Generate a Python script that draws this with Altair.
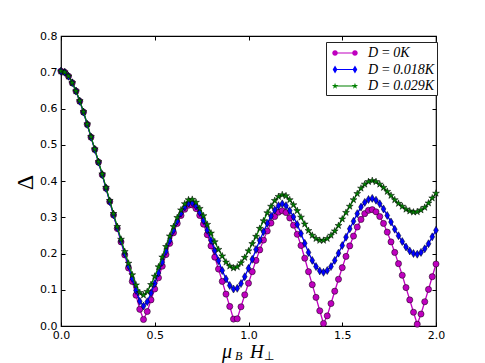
import altair as alt
import pandas as pd

# ---------------- data ----------------
x_vals = [0.00, 0.02, 0.04, 0.06, 0.08, 0.10, 0.12, 0.14, 0.16, 0.18,
          0.20, 0.22, 0.24, 0.26, 0.28, 0.30, 0.32, 0.34, 0.36, 0.38,
          0.40, 0.42, 0.44, 0.46, 0.48, 0.50, 0.52, 0.54, 0.56, 0.58,
          0.60, 0.62, 0.64, 0.66, 0.68, 0.70, 0.72, 0.74, 0.76, 0.78,
          0.80, 0.82, 0.84, 0.86, 0.88, 0.90, 0.92, 0.94, 0.96, 0.98,
          1.00, 1.02, 1.04, 1.06, 1.08, 1.10, 1.12, 1.14, 1.16, 1.18,
          1.20, 1.22, 1.24, 1.26, 1.28, 1.30, 1.32, 1.34, 1.36, 1.38,
          1.40, 1.42, 1.44, 1.46, 1.48, 1.50, 1.52, 1.54, 1.56, 1.58,
          1.60, 1.62, 1.64, 1.66, 1.68, 1.70, 1.72, 1.74, 1.76, 1.78,
          1.80, 1.82, 1.84, 1.86, 1.88, 1.90, 1.92, 1.94, 1.96, 1.98,
          2.00]

delta_D0 = [0.703, 0.700, 0.689, 0.671, 0.648, 0.620, 0.590, 0.556, 0.521, 0.487,
            0.452, 0.417, 0.380, 0.343, 0.306, 0.269, 0.232, 0.196, 0.160, 0.123,
            0.085, 0.046, 0.018, 0.040, 0.072, 0.102, 0.133, 0.165, 0.197, 0.228,
            0.257, 0.283, 0.305, 0.322, 0.333, 0.334, 0.324, 0.305, 0.281, 0.252,
            0.221, 0.190, 0.157, 0.123, 0.088, 0.054, 0.019, 0.020, 0.053, 0.086,
            0.118, 0.150, 0.181, 0.210, 0.237, 0.262, 0.284, 0.302, 0.314, 0.318,
            0.313, 0.298, 0.278, 0.253, 0.222, 0.187, 0.150, 0.114, 0.079, 0.042,
            0.007, 0.028, 0.062, 0.096, 0.129, 0.161, 0.192, 0.221, 0.248, 0.273,
            0.294, 0.310, 0.319, 0.321, 0.315, 0.302, 0.283, 0.259, 0.232, 0.203,
            0.172, 0.140, 0.106, 0.072, 0.038, 0.005, 0.033, 0.067, 0.101, 0.136,
            0.171]

delta_D018 = [0.703, 0.700, 0.689, 0.671, 0.648, 0.620, 0.590, 0.556, 0.521, 0.487,
              0.452, 0.417, 0.380, 0.343, 0.307, 0.271, 0.235, 0.200, 0.166, 0.131,
              0.098, 0.068, 0.055, 0.067, 0.091, 0.117, 0.146, 0.176, 0.206, 0.236,
              0.264, 0.290, 0.311, 0.328, 0.339, 0.340, 0.331, 0.313, 0.291, 0.264,
              0.236, 0.208, 0.180, 0.153, 0.130, 0.112, 0.102, 0.104, 0.117, 0.136,
              0.159, 0.184, 0.211, 0.236, 0.260, 0.283, 0.303, 0.320, 0.332, 0.337,
              0.332, 0.318, 0.301, 0.280, 0.255, 0.228, 0.203, 0.181, 0.164, 0.152,
              0.148, 0.153, 0.164, 0.181, 0.201, 0.222, 0.245, 0.268, 0.289, 0.310,
              0.328, 0.341, 0.349, 0.352, 0.347, 0.337, 0.323, 0.305, 0.287, 0.267,
              0.249, 0.233, 0.218, 0.207, 0.200, 0.198, 0.203, 0.213, 0.227, 0.246,
              0.264]

delta_D029 = [0.703, 0.700, 0.689, 0.671, 0.648, 0.621, 0.591, 0.557, 0.522, 0.488,
              0.453, 0.419, 0.382, 0.346, 0.310, 0.274, 0.239, 0.205, 0.173, 0.141,
              0.113, 0.092, 0.085, 0.095, 0.114, 0.137, 0.163, 0.190, 0.219, 0.248,
              0.274, 0.299, 0.320, 0.337, 0.348, 0.349, 0.341, 0.324, 0.304, 0.280,
              0.256, 0.232, 0.211, 0.193, 0.176, 0.165, 0.160, 0.163, 0.174, 0.189,
              0.207, 0.227, 0.247, 0.269, 0.290, 0.312, 0.330, 0.346, 0.357, 0.362,
              0.359, 0.348, 0.334, 0.318, 0.300, 0.281, 0.263, 0.250, 0.241, 0.236,
              0.236, 0.241, 0.250, 0.262, 0.277, 0.295, 0.313, 0.330, 0.348, 0.365,
              0.380, 0.391, 0.398, 0.401, 0.398, 0.391, 0.382, 0.371, 0.360, 0.348,
              0.338, 0.330, 0.322, 0.317, 0.314, 0.315, 0.320, 0.327, 0.339, 0.353,
              0.366]

series_names = ["D\u2009=\u20090K", "D\u2009=\u20090.018K", "D\u2009=\u20090.029K"]
x_ticks = [0.0, 0.5, 1.0, 1.5, 2.0]
y_ticks = [0.0, 0.1, 0.2, 0.3, 0.4, 0.5, 0.6, 0.7, 0.8]

# ---------------- styling ----------------
colors = ["#bf00bf", "#0000ff", "#008000"]
W, H = 375, 290


def star_path(cx, cy, r):
    pts = [(0, -1), (0.225, -0.309), (0.951, -0.309), (0.363, 0.118),
           (0.588, 0.809), (0, 0.382), (-0.588, 0.809), (-0.363, 0.118),
           (-0.951, -0.309), (-0.225, -0.309)]
    return "M" + " L".join(f"{cx + px * r:.3f},{cy + py * r:.3f}" for px, py in pts) + " Z"


def circle_path(cx, cy, r):
    return (f"M{cx + r:.3f},{cy:.3f} A{r},{r} 0 1,1 {cx - r:.3f},{cy:.3f} "
            f"A{r},{r} 0 1,1 {cx + r:.3f},{cy:.3f} Z")


def diamond_path(cx, cy, rx, ry):
    return (f"M{cx:.3f},{cy - ry:.3f} L{cx + rx:.3f},{cy:.3f} "
            f"L{cx:.3f},{cy + ry:.3f} L{cx - rx:.3f},{cy:.3f} Z")


LH = 1.15
line_rect = f"M{-LH},-0.07 L{LH},-0.07 L{LH},0.07 L{-LH},0.07 Z"
legend_paths = [
    line_rect + " " + circle_path(-LH, 0, 0.32) + " " + circle_path(LH, 0, 0.32),
    line_rect + " " + diamond_path(-LH, 0, 0.27, 0.46) + " " + diamond_path(LH, 0, 0.27, 0.46),
    line_rect + " " + star_path(-LH, 0, 0.38) + " " + star_path(LH, 0, 0.38),
]

marker_shapes = ["circle", diamond_path(0, 0, 0.6, 1.0), star_path(0, 0, 1.0)]
marker_sizes = [38, 64, 52]

rows = []
for name, vals in zip(series_names, [delta_D0, delta_D018, delta_D029]):
    for xv, yv in zip(x_vals, vals):
        rows.append({"x": xv, "delta": yv, "series": name})
df = pd.DataFrame(rows)

xs = alt.Scale(domain=[0, 2], nice=False, zero=False)
ys = alt.Scale(domain=[0, 0.8], nice=False, zero=False)

common = dict(grid=False, domain=False, tickColor="black", tickWidth=1,
              labelColor="black", labelFont="DejaVu Sans", labelFontSize=11,
              labelFlush=False, labelOverlap=False)

ax_x_labels = alt.Axis(orient="bottom", values=x_ticks, format=".1f", tickSize=0,
                       labelPadding=3, title=None, **common)
ax_x_in_bottom = alt.Axis(orient="top", offset=-H, values=x_ticks, labels=False,
                          tickSize=4, title=None, **common)
ax_x_in_top = alt.Axis(orient="bottom", offset=-H, values=x_ticks, labels=False,
                       tickSize=4, title=None, **common)
ax_y_labels = alt.Axis(orient="left", values=y_ticks, format=".1f", tickSize=0,
                       labelPadding=4, title="Δ", titleFont="Liberation Serif",
                       titleFontSize=24, titleFontWeight="normal", titleColor="black",
                       titleAngle=270, titleAlign="center", titleBaseline="alphabetic",
                       titleX=-29, titleY=146, **common)
ax_y_in_left = alt.Axis(orient="right", offset=-W, values=y_ticks, labels=False,
                        tickSize=4, title=None, **common)
ax_y_in_right = alt.Axis(orient="left", offset=-W, values=y_ticks, labels=False,
                         tickSize=4, title=None, **common)

axes_plan = [(ax_x_labels, ax_y_labels), (ax_x_in_bottom, ax_y_in_left),
             (ax_x_in_top, ax_y_in_right)]

layers = []
k = 0
for i, name in enumerate(series_names):
    sub = alt.Chart(df).transform_filter(alt.datum.series == name)
    for kind in ("line", "point"):
        if k < len(axes_plan):
            axx, axy = axes_plan[k]
        else:
            axx, axy = None, None
        enc_x = alt.X("x:Q", scale=xs, axis=axx)
        enc_y = alt.Y("delta:Q", scale=ys, axis=axy)
        if kind == "line":
            layer = sub.mark_line(color=colors[i], strokeWidth=1.3).encode(x=enc_x, y=enc_y)
        else:
            layer = sub.mark_point(filled=True, shape=marker_shapes[i], size=marker_sizes[i],
                                   fill=colors[i], stroke="black", strokeWidth=0.5,
                                   opacity=1).encode(x=enc_x, y=enc_y)
        layers.append(layer)
        k += 1

legend_kw = dict(title=None, orient="none", legendX=265, legendY=6, padding=2,
                 strokeColor="#222222", fillColor="white", symbolSize=300,
                 symbolOffset=8, labelOffset=14, rowPadding=0.5,
                 labelFont="Liberation Serif", labelFontStyle="italic",
                 labelFontSize=14, labelColor="black", symbolStrokeWidth=0,
                 cornerRadius=0)

legend_layer = alt.Chart(df).transform_filter("datum.x < -1").mark_point(
    filled=True, opacity=1).encode(
    x=alt.X("x:Q", scale=xs, axis=None),
    y=alt.Y("delta:Q", scale=ys, axis=None),
    color=alt.Color("series:N", scale=alt.Scale(domain=series_names, range=colors),
                    legend=alt.Legend(**legend_kw)),
    shape=alt.Shape("series:N", scale=alt.Scale(domain=series_names, range=legend_paths),
                    legend=alt.Legend(**legend_kw)),
)
layers.append(legend_layer)

# x-axis title pieces: μ_B H_⊥
title_pieces = [("μ", 161, 322, 20, "Liberation Serif", "italic"),
                ("B", 174, 324, 12, "Liberation Serif", "italic"),
                ("H", 189, 322, 19, "Liberation Serif", "italic"),
                ("⊥", 203, 324, 12, "DejaVu Sans", "normal")]
for txt, tx, ty, fs, fnt, sty in title_pieces:
    layers.append(
        alt.Chart(pd.DataFrame([{"t": txt}])).mark_text(
            align="left", baseline="alphabetic", fontSize=fs, font=fnt,
            fontStyle=sty, color="black").encode(
            text="t:N", x=alt.value(tx), y=alt.value(ty))
    )

chart = alt.layer(*layers).resolve_axis(x="independent", y="independent").properties(
    width=W, height=H,
    padding={"left": 53, "top": 28, "right": 41, "bottom": 37},
    autosize=alt.AutoSizeParams(type="none"),
    background="white",
).configure_view(stroke="black", strokeWidth=1.2)

chart.save("out.html", embed_options={"renderer": "svg", "actions": False})
